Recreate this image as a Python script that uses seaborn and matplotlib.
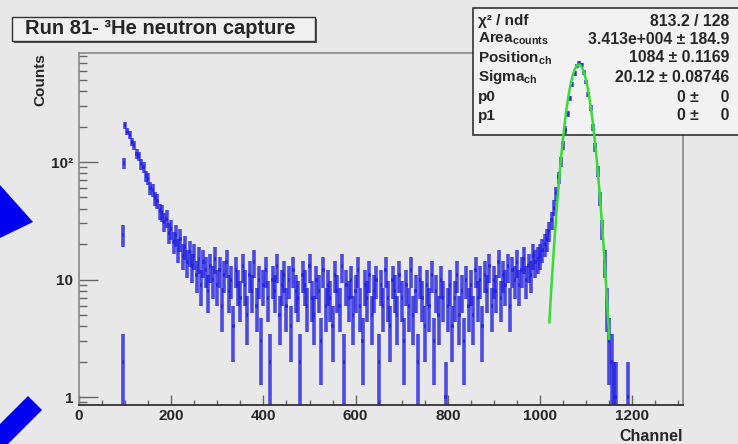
"""
Run 81 - 3He neutron capture spectrum (ROOT-style histogram with Gaussian fit)
"""
import numpy as np
import pandas as pd
import matplotlib
matplotlib.use("Agg")
import matplotlib.pyplot as plt
import seaborn as sns
from matplotlib.patches import Rectangle, Polygon
from matplotlib.lines import Line2D
from matplotlib.ticker import FixedLocator, MultipleLocator, NullFormatter

channels = np.arange(100, 1170, 5)
counts = [
    205, 182, 170, 148, 139, 118, 112, 96, 91, 76,      # 100-145
    72, 60, 58, 49, 47, 38, 37, 31, 33, 25,             # 150-195
    27, 21, 24, 18, 22, 16, 19, 14, 17, 13,             # 200-245
    16, 11, 15, 9, 14, 12, 8, 13, 10, 15,               # 250-295
    9, 12, 6, 11, 14, 8, 10, 4, 12, 9,                  # 300-345
    7, 13, 9, 5, 11, 8, 14, 6, 10, 3,                   # 350-395
    9, 12, 7, 2, 10, 8, 13, 5, 9, 11,                   # 400-445
    6, 10, 4, 12, 8, 7, 2, 11, 9, 6,                    # 450-495
    13, 7, 5, 10, 8, 3, 12, 6, 9, 7,                    # 500-545
    4, 11, 8, 6, 13, 2, 9, 7, 10, 5,                    # 550-595
    8, 12, 6, 3, 9, 7, 11, 5, 8, 10,                    # 600-645
    2, 9, 6, 12, 7, 4, 10, 8, 5, 11,                    # 650-695
    7, 3, 9, 6, 12, 5, 8, 2, 10, 7,                     # 700-745
    4, 9, 6, 11, 3, 8, 5, 10, 7, 1,                     # 750-795
    6, 9, 4, 7, 11, 5, 8, 3, 10, 6,                     # 800-845
    9, 5, 12, 7, 10, 4, 11, 8, 13, 6,                   # 850-895
    10, 8, 14, 7, 11, 9, 13, 6, 12, 10,                 # 900-945
    14, 9, 12, 15, 10, 13, 11, 16, 14, 15,              # 950-995
    16, 18, 20, 22, 26, 32, 41, 54, 74, 101,            # 1000-1045
    138, 188, 258, 348, 455, 568, 655, 702, 668, 578,   # 1050-1095
    482, 378, 288, 198, 134, 84, 49, 27, 14, 6,         # 1100-1145
    3, 2, 1, 1,                                         # 1150-1165
]
# isolated bins near the threshold and past the peak
stray_channels = [95, 96, 97, 1190]
stray_counts = [2, 24, 98, 1]

# fit parameters from the stats box
fit_area = 3.413e4
fit_pos = 1084
fit_sigma = 20.12
fit_range = (1020, 1150)

stat_labels = [r"χ² / ndf", r"Area$_{\mathrm{counts}}$", r"Position$_{\mathrm{ch}}$",
               r"Sigma$_{\mathrm{ch}}$", "p0", "p1"]
stat_values = ["813.2 / 128", "3.413e+004 ± 184.9", "1084 ± 0.1169",
               "20.12 ± 0.08746", "0 ±     0", "0 ±     0"]

BG = "#e8e8e8"
BLUE = "#1f1fe0"
FRAME = "#888888"

sns.set_style("ticks", {"axes.facecolor": BG, "figure.facecolor": BG})
plt.rcParams['font.family'] = ['Liberation Sans', 'DejaVu Sans']
plt.rcParams['font.weight'] = 'bold'
plt.rcParams['mathtext.fontset'] = 'custom'
plt.rcParams['mathtext.rm'] = 'Liberation Sans:bold'

W, H = 738, 444
fig = plt.figure(figsize=(W / 100, H / 100), dpi=100)
ax = fig.add_axes([79 / W, 1 - 405 / H, (683 - 79) / W, (405 - 53) / H])
ax.patch.set_alpha(0)

df = pd.DataFrame({"channel": np.concatenate([channels, stray_channels]),
                   "counts": np.concatenate([counts, stray_counts]).astype(float)})
err = np.sqrt(df["counts"].values)
low = np.minimum(err, df["counts"].values - 1e-3)
ax.errorbar(df["channel"], df["counts"], xerr=2.5, yerr=[low, err], fmt='none',
            ecolor=BLUE, elinewidth=2.6, alpha=0.78, zorder=2)

# Gaussian fit curve drawn from the fitted parameters
fx = np.linspace(fit_range[0], fit_range[1], 300)
fy = fit_area / (fit_sigma * np.sqrt(2 * np.pi)) * np.exp(-0.5 * ((fx - fit_pos) / fit_sigma) ** 2)
sns.lineplot(x=fx, y=fy, ax=ax, color="#33dd33", linewidth=1.8, zorder=4)

ax.set_yscale('log')
ax.set_xlim(0, 1310)
ax.set_ylim(0.855, 848)

ax.xaxis.set_major_locator(MultipleLocator(200))
ax.xaxis.set_minor_locator(MultipleLocator(50))
ax.yaxis.set_major_locator(FixedLocator([1, 10, 100]))
ax.yaxis.set_minor_locator(FixedLocator([m * 10 ** d for d in range(-1, 3) for m in range(2, 10)]))
ax.yaxis.set_minor_formatter(NullFormatter())
ax.set_yticklabels(["1", "10", "10²"])
ax.tick_params(axis='x', which='major', direction='in', length=7, width=1, color="#666",
               labelsize=11, pad=3)
ax.tick_params(axis='x', which='minor', direction='in', length=3.5, width=1, color="#666")
ax.tick_params(axis='y', which='major', direction='in', length=14, width=1, color="#666",
               labelsize=11, pad=4)
ax.tick_params(axis='y', which='minor', direction='in', length=6, width=1, color="#666")
for lab in ax.get_xticklabels() + ax.get_yticklabels():
    lab.set_fontweight('bold')

ax.spines['top'].set_visible(False)
ax.spines['right'].set_visible(False)
ax.spines['left'].set_color(FRAME)
ax.spines['left'].set_linewidth(1.2)
ax.spines['bottom'].set_color("#333")
ax.spines['bottom'].set_linewidth(1.3)

ax.set_xlabel("Channel", fontsize=11.5, fontweight='bold', loc='right', labelpad=4)
ax.set_ylabel("Counts", fontsize=11, fontweight='bold', loc='top')
ax.yaxis.set_label_coords(-0.052, 1.0)


def fx_(x):
    return x / W


def fy_(y):
    return 1 - y / H


# frame lines that pass under the stats box
fig.add_artist(Line2D([fx_(79), fx_(683)], [fy_(53), fy_(53)], color=FRAME, lw=1.2, zorder=-3))
fig.add_artist(Line2D([fx_(683), fx_(683)], [fy_(53), fy_(405)], color=FRAME, lw=1.2, zorder=-3))

# title box (with shadow)
fig.add_artist(Rectangle((fx_(14), fy_(43)), fx_(303), 24 / H, transform=fig.transFigure,
                         facecolor="#555", edgecolor='none', zorder=5))
fig.add_artist(Rectangle((fx_(12), fy_(41)), fx_(303), 24 / H, transform=fig.transFigure,
                         facecolor="#f0f0f0", edgecolor="#333", linewidth=1, zorder=6))
fig.text(fx_(25), fy_(29), "Run 81- ³He neutron capture", fontsize=14.5, fontweight='bold',
         va='center', ha='left', zorder=7)

# stats box, drawn beneath the histogram like in the original
fig.add_artist(Rectangle((fx_(473), fy_(135)), fx_(270), 127 / H, transform=fig.transFigure,
                         facecolor="#f2f2f2", edgecolor="#333", linewidth=1.2, zorder=-2))
row_y = [21, 39, 58, 77, 97, 116]
for yy, lab, val in zip(row_y, stat_labels, stat_values):
    fig.text(fx_(478), fy_(yy), lab, fontsize=11, fontweight='bold', va='center',
             ha='left', zorder=-1)
    fig.text(fx_(729), fy_(yy), val, fontsize=11.3, fontweight='bold', va='center',
             ha='right', zorder=-1)

# blue slide decorations on the left edge
tri = [(0, 185), (33, 222), (0, 238)]
bar = [(28, 396), (42, 410), (8, 444), (0, 444), (0, 424)]
for pts in (tri, bar):
    fig.add_artist(Polygon([(fx_(x), fy_(y)) for x, y in pts], closed=True,
                           transform=fig.transFigure, facecolor="#0000f0",
                           edgecolor='none', zorder=8))

fig.savefig("out.png", dpi=100, facecolor=BG)
